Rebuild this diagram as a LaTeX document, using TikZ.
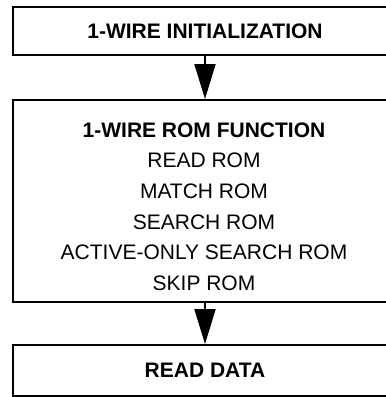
\documentclass[tikz,border=0pt]{standalone}
\usepackage{fontspec}
\setmainfont{Liberation Sans}
\usetikzlibrary{arrows.meta}
\begin{document}
\begin{tikzpicture}[x=1pt,y=-1pt,
  box/.style={draw=black,line width=2pt,minimum width=384pt,inner sep=0pt,fill=white,
    font=\fontsize{21}{30.6}\selectfont,align=center},
  flow/.style={line width=2pt,-{Triangle[length=35pt,width=21pt]}}]
\useasboundingbox[fill=white] (0,0) rectangle (386,397);
\node[box,minimum height=48pt] (init) at (205,31) {\textbf{1-WIRE INITIALIZATION}};
\node[box,minimum height=202pt] (rom) at (205,201) {};
\node[font=\fontsize{21}{30.6}\selectfont,align=center,inner sep=0pt] (romtext) at (204,206.5)
  {\textbf{1-WIRE ROM FUNCTION}\\READ ROM\\MATCH ROM\\SEARCH ROM\\ACTIVE-ONLY SEARCH ROM\\SKIP ROM};
\node[box,minimum height=51pt] (data) at (205,370.5) {\textbf{READ DATA}};
\draw[flow] (init.south) -- (rom.north);
\draw[flow] (rom.south) -- (data.north);
\end{tikzpicture}
\end{document}
